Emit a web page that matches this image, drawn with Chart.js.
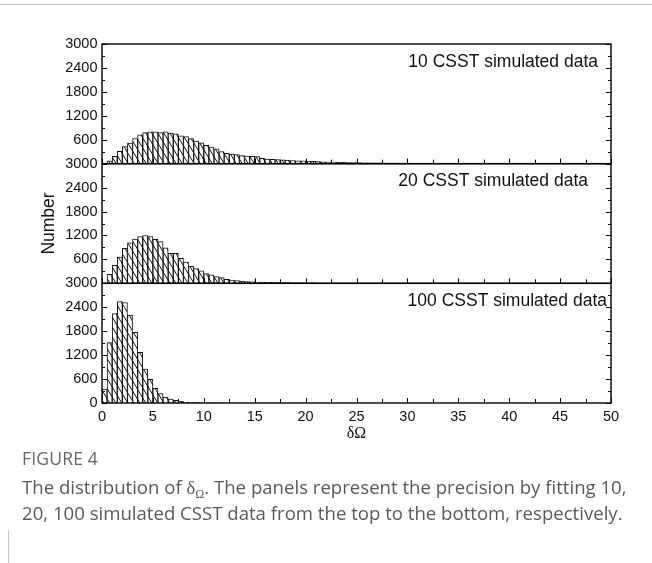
<!DOCTYPE html>
<html>
<head>
<meta charset="utf-8">
<script src="https://cdn.jsdelivr.net/npm/chart.js@4.4.0/dist/chart.umd.min.js"></script>
<style>
  body { margin: 0; background: #fff; width: 652px; height: 563px; position: relative; overflow: hidden; }
  #wrap { position: absolute; left: 0; top: 0; width: 652px; height: 450px; }
  #topline { position: absolute; left: 0; top: 4px; width: 652px; height: 1px; background: #c4c4c4; }
  #leftline { position: absolute; left: 8px; top: 530px; width: 1px; height: 33px; background: #c4c4c4; }
  #cap { position: absolute; left: 22px; top: 445px; font-family: "Open Sans", "Noto Sans", sans-serif; color: #595959; white-space: nowrap; }
  #cap .fig { font-size: 17.5px; letter-spacing: 0.2px; color: #666; line-height: 26px; }
  #cap .txt { font-size: 18.6px; line-height: 25px; margin-top: 3px; }
  #cap sub { font-family: "Liberation Serif", serif; font-size: 12px; line-height: 0; vertical-align: -0.35em; }
</style>
</head>
<body>
<div id="topline"></div>
<div id="wrap"><canvas id="histChart"></canvas></div>
<div id="leftline"></div>
<div id="cap">
  <div class="fig">FIGURE 4</div>
  <div class="txt">The distribution of <span style="font-family:'Liberation Serif',serif">δ</span><sub>Ω</sub>. The panels represent the precision by fitting 10,<br>20, 100 simulated CSST data from the top to the bottom, respectively.</div>
</div>
<script>
// histogram bins are 0.5 wide, starting at 0
const BIN_WIDTH = 0.5;

// 10 CSST simulated data (top panel)
const counts10 = [
    5, 70, 185, 310, 430, 515, 630, 720, 778, 800,
    800, 780, 797, 765, 748, 700, 680, 627, 568, 525,
    462, 415, 375, 300, 260, 243, 227, 200, 193, 185,
    176, 134, 118, 109, 100, 95, 88, 80, 74, 68,
    62, 56, 50, 46, 42, 38, 35, 32, 29, 27,
    25, 23, 21, 19, 18, 17, 16, 15, 14, 13,
    12, 11, 10, 10, 9, 9, 8, 8, 7, 7,
    6, 6, 6, 5, 5, 5, 4, 4, 4, 4,
    3, 3, 3, 3, 3, 3, 2, 2, 2, 2,
    2, 2, 2, 2, 2, 1, 1, 1, 1, 1
];

// 20 CSST simulated data (middle panel)
const counts20 = [
    5, 225, 450, 660, 875, 1015, 1110, 1170, 1200, 1170,
    1105, 1045, 890, 752, 752, 626, 530, 428, 370, 315,
    245, 215, 168, 142, 101, 84, 67, 59, 42, 38,
    34, 30, 27, 24, 21, 19, 17, 15, 13, 12,
    11, 10, 9, 8, 7, 7, 6, 5, 5, 4,
    4, 4, 3, 3, 3, 3, 2, 2, 2, 2,
    2, 2, 1, 1, 1, 1, 1, 1, 1, 1
];

// 100 CSST simulated data (bottom panel)
const counts100 = [
    350, 1515, 2240, 2540, 2520, 2205, 1772, 1272, 848, 596,
    370, 235, 151, 101, 67, 42, 25, 17, 10, 6,
    4, 3, 2, 1, 1
];

const PANEL_LABELS = ['10 CSST simulated data', '20 CSST simulated data', '100 CSST simulated data'];
const X_TICKS = [0, 5, 10, 15, 20, 25, 30, 35, 40, 45, 50];
const Y_TICKS = [0, 600, 1200, 1800, 2400, 3000];
const X_MINOR_STEP = 2.5;
const Y_MINOR_STEP = 300;

const AXIS_IDS = ['y1', 'y2', 'y3'];   // top to bottom
const LABEL_RIGHT = [598, 588, 607];

function toPoints(counts) {
    return counts.map((c, i) => ({x: (i + 0.5) * BIN_WIDTH, y: c}));
}

function hatchPattern() {
    let tile = document.createElement('canvas');
    tile.width = 6;
    tile.height = 10;
    let c = tile.getContext('2d');
    c.fillStyle = '#fff';
    c.fillRect(0, 0, 6, 10);
    c.strokeStyle = '#111';
    c.lineWidth = 1;
    c.beginPath();
    c.moveTo(-6, -10); c.lineTo(12, 20);
    c.moveTo(-12, -10); c.lineTo(6, 20);
    c.moveTo(0, -10); c.lineTo(18, 20);
    c.stroke();
    return c.createPattern(tile, 'repeat');
}

// frames, inward ticks and panel captions
const panelDecor = {
    id: 'panelDecor',
    afterDatasetsDraw(chart) {
        const ctx = chart.ctx;
        const xs = chart.scales.x;
        ctx.save();
        ctx.strokeStyle = '#000';
        ctx.lineWidth = 1;
        AXIS_IDS.forEach((id, k) => {
            const ys = chart.scales[id];
            ctx.beginPath();
            for (let v = 0; v <= 3000; v += Y_MINOR_STEP) {
                const py = Math.round(ys.getPixelForValue(v)) + 0.5;
                const len = (v % 600 == 0) ? 5 : 3;
                ctx.moveTo(xs.left, py); ctx.lineTo(xs.left + len, py);
                ctx.moveTo(xs.right, py); ctx.lineTo(xs.right - len, py);
            }
            for (let v = 0; v <= 50; v += X_MINOR_STEP) {
                const px = Math.round(xs.getPixelForValue(v)) + 0.5;
                const len = (v % 5 == 0) ? 5 : 4;
                ctx.moveTo(px, ys.bottom); ctx.lineTo(px, ys.bottom - len);
            }
            ctx.stroke();
            ctx.lineWidth = 1.4;
            ctx.strokeRect(xs.left, ys.top, xs.right - xs.left, ys.bottom - ys.top);
            ctx.lineWidth = 1;

            ctx.fillStyle = '#111';
            ctx.font = '17.5px "Liberation Sans", Arial, sans-serif';
            ctx.textAlign = 'right';
            ctx.textBaseline = 'middle';
            ctx.fillText(PANEL_LABELS[k], LABEL_RIGHT[k], ys.top + 18);
        });
        ctx.restore();
    }
};

function yAxis(showZero, title) {
    return {
        type: 'linear',
        position: 'left',
        stack: 'panels',
        stackWeight: 1,
        min: 0,
        max: 3000,
        afterBuildTicks: (s) => { s.ticks = Y_TICKS.map(v => ({value: v})); },
        afterFit: (s) => { s.width = 63; },
        grid: {display: false, drawTicks: false},
        border: {display: false},
        ticks: {
            autoSkip: false,
            padding: 4.5,
            color: '#111',
            font: {family: '"Liberation Sans", Arial, sans-serif', size: 14.5},
            callback: (v) => (v == 0 && !showZero) ? '' : v,
        },
        title: {
            display: !!title,
            text: title || '',
            color: '#111',
            padding: {top: 0, bottom: 0},
            font: {family: '"Liberation Sans", Arial, sans-serif', size: 17.5},
        },
    };
}

function main() {
    const pattern = hatchPattern();
    const sets = [counts10, counts20, counts100].map((counts, i) => ({
        label: PANEL_LABELS[i],
        data: toPoints(counts),
        yAxisID: AXIS_IDS[i],
        backgroundColor: pattern,
        borderColor: '#111',
        borderWidth: 1,
        barPercentage: 1.0,
        categoryPercentage: 1.0,
        grouped: false,
    }));

    const config = {
        type: 'bar',
        data: {datasets: sets},
        options: {
            responsive: true,
            maintainAspectRatio: false,
            animation: false,
            layout: {padding: {top: 44, right: 41, left: 39, bottom: 0}},
            plugins: {legend: {display: false}, tooltip: {enabled: false}},
            scales: {
                x: {
                    type: 'linear',
                    offset: false,
                    min: 0,
                    max: 50,
                    afterBuildTicks: (s) => { s.ticks = X_TICKS.map(v => ({value: v})); },
                    afterFit: (s) => { s.height = 47; },
                    grid: {display: false, drawTicks: false, offset: false},
                    border: {display: false},
                    ticks: {
                        autoSkip: false,
                        maxRotation: 0,
                        padding: 5,
                        color: '#111',
                        font: {family: '"Liberation Sans", Arial, sans-serif', size: 14.5},
                    },
                    title: {
                        display: true,
                        text: 'δΩ',
                        color: '#111',
                        padding: {top: 0, bottom: 7},
                        font: {family: '"Liberation Serif", "Times New Roman", serif', size: 16},
                    },
                },
                // stacked left axes are placed last-defined on top
                y3: yAxis(true, null),
                y2: yAxis(false, 'Number'),
                y1: yAxis(false, null),
            },
        },
        plugins: [panelDecor],
    };

    new Chart(document.getElementById('histChart').getContext('2d'), config);
}

main();
</script>
</body>
</html>
